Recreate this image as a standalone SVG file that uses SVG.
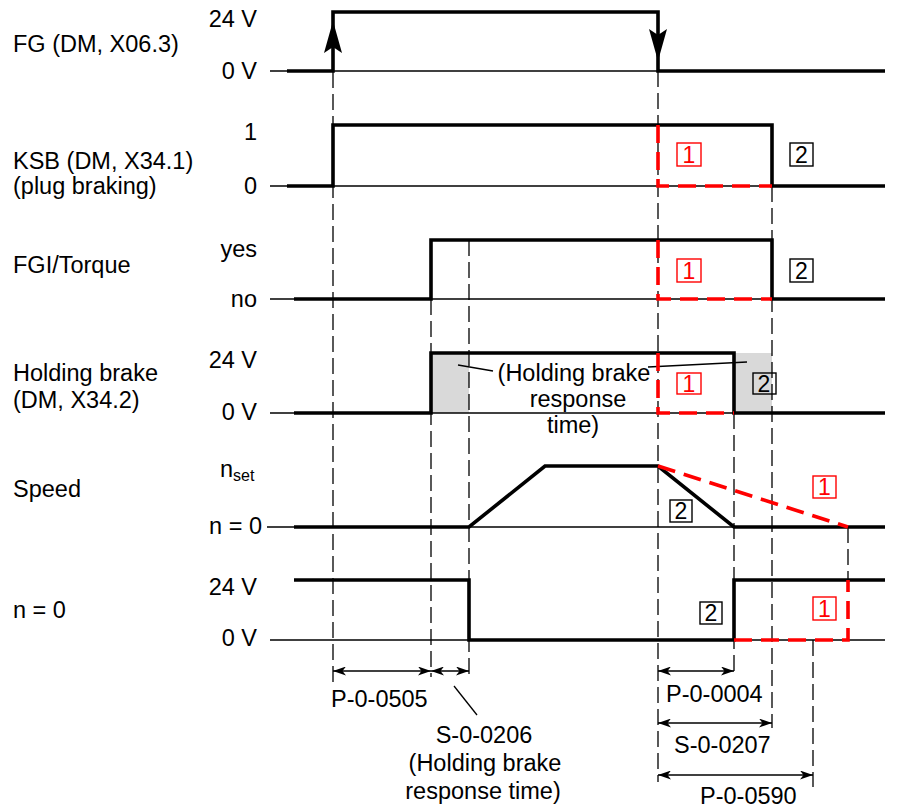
<svg xmlns="http://www.w3.org/2000/svg" width="899" height="808" viewBox="0 0 899 808">
<defs>
<style>
text{font-family:"Liberation Sans",Arial,sans-serif;font-size:23.5px;fill:#000}
.lvl{text-anchor:end}
.mid{text-anchor:middle}
.sig{fill:none;stroke:#000;stroke-width:3.6;stroke-linejoin:miter;stroke-linecap:butt}
.base{fill:none;stroke:#000;stroke-width:1.3}
.red{fill:none;stroke:#ff0000;stroke-width:3.6;stroke-dasharray:18 9}
.vd{fill:none;stroke:#000;stroke-width:1.3;stroke-dasharray:16 6}
.thin{fill:none;stroke:#000;stroke-width:1.3}
.dim{fill:none;stroke:#000;stroke-width:1.5;marker-start:url(#ah);marker-end:url(#ah)}
.grey{fill:#d9d9d9}
.bx{fill:none;stroke:#000;stroke-width:1.4}
.bxr{fill:none;stroke:#ff0000;stroke-width:1.4}
.bt{font-size:23px;text-anchor:middle}
.btr{font-size:23px;text-anchor:middle;fill:#ff0000}
</style>
<marker id="ah" viewBox="0 0 13 9" refX="13" refY="4.5" markerWidth="13" markerHeight="9" markerUnits="userSpaceOnUse" orient="auto-start-reverse">
<path d="M0,0 L13,4.5 L0,9 L3.5,4.5 Z" fill="#000"/>
</marker>
</defs>

<g id="grey-areas">
<rect class="grey" x="431" y="353" width="38" height="60"/>
<rect class="grey" x="734" y="353" width="38" height="60"/>
</g>

<g id="connectors">
<line class="vd" x1="333" y1="72" x2="333" y2="682"/>
<line class="vd" x1="431" y1="299" x2="431" y2="677"/>
<line class="vd" x1="469" y1="240" x2="469" y2="677"/>
<line class="vd" x1="658" y1="71" x2="658" y2="782"/>
<line class="vd" x1="734" y1="413" x2="734" y2="677"/>
<line class="vd" x1="772" y1="186" x2="772" y2="728"/>
<line class="vd" x1="848" y1="527" x2="848" y2="580"/>
<line class="vd" x1="813" y1="640" x2="813" y2="787"/>
<line class="thin" x1="458" y1="365" x2="493" y2="371"/>
<line class="thin" x1="648" y1="367" x2="747" y2="362"/>
<line class="thin" x1="454" y1="686" x2="477" y2="715"/>
<line class="dim" x1="333" y1="671" x2="431" y2="671"/>
<line class="dim" x1="431" y1="671" x2="469" y2="671"/>
<line class="dim" x1="658" y1="671" x2="734" y2="671"/>
<line class="dim" x1="658" y1="723" x2="772" y2="723"/>
<line class="dim" x1="658" y1="775" x2="813" y2="775"/>
</g>

<g id="signal-fg">
<text x="13" y="52">FG (DM, X06.3)</text>
<text class="lvl" x="257" y="27">24 V</text>
<text class="lvl" x="257" y="79">0 V</text>
<line class="base" x1="270" y1="71" x2="885" y2="71"/>
<polyline class="sig" points="287,71 333,71 333,12 658,12 658,71 885,71"/>
<path d="M333,21 L342,53 L333,47 L324,53 Z" fill="#000"/>
<path d="M658,61 L649,29 L658,35 L667,29 Z" fill="#000"/>
</g>

<g id="signal-ksb">
<text x="13" y="169">KSB (DM, X34.1)</text>
<text x="13" y="194">(plug braking)</text>
<text class="lvl" x="257" y="140">1</text>
<text class="lvl" x="257" y="194">0</text>
<line class="base" x1="270" y1="186" x2="885" y2="186"/>
<polyline class="sig" points="287,186 333,186 333,125 772,125 772,186 885,186"/>
<path class="red" d="M658,125 V186 H772"/>
<rect class="bxr" x="677" y="143" width="24" height="23"/>
<text class="btr" x="689" y="162.5">1</text>
<rect class="bx" x="790" y="143" width="23" height="23"/>
<text class="bt" x="801.5" y="162.5">2</text>
</g>

<g id="signal-fgi">
<text x="13" y="273">FGI/Torque</text>
<text class="lvl" x="257" y="257">yes</text>
<text class="lvl" x="257" y="307">no</text>
<line class="base" x1="270" y1="299" x2="885" y2="299"/>
<polyline class="sig" points="294,299 431,299 431,240 772,240 772,299 885,299"/>
<path class="red" d="M658,240 V299 H772"/>
<rect class="bxr" x="677" y="259" width="24" height="23"/>
<text class="btr" x="689" y="278.5">1</text>
<rect class="bx" x="790" y="259" width="23" height="23"/>
<text class="bt" x="801.5" y="278.5">2</text>
</g>

<g id="signal-holding-brake">
<text x="13" y="381">Holding brake</text>
<text x="13" y="408">(DM, X34.2)</text>
<text class="lvl" x="257" y="368">24 V</text>
<text class="lvl" x="257" y="420">0 V</text>
<line class="base" x1="270" y1="413" x2="885" y2="413"/>
<polyline class="sig" points="294,413 431,413 431,353 734,353 734,413 885,413"/>
<path class="red" d="M658,353 V413 H734"/>
<rect class="bxr" x="677" y="373" width="24" height="21"/>
<text class="btr" x="689" y="391.5">1</text>
<rect class="bx" x="753" y="373" width="23" height="21"/>
<text class="bt" x="764" y="391.5">2</text>
<text class="mid" x="574" y="381">(Holding brake</text>
<text class="mid" x="578" y="407">response</text>
<text class="mid" x="573" y="433">time)</text>
</g>

<g id="signal-speed">
<text x="13" y="497">Speed</text>
<text x="220" y="477">n<tspan font-size="16" dy="4">set</tspan></text>
<text class="lvl" x="262" y="534">n = 0</text>
<line class="base" x1="267" y1="527" x2="885" y2="527"/>
<polyline class="sig" points="294,527 469,527 545,466 658,466 734,527 885,527"/>
<path class="red" d="M658,466 L848,527"/>
<rect class="bxr" x="813" y="476" width="23" height="22"/>
<text class="btr" x="824.5" y="495">1</text>
<rect class="bx" x="670" y="500" width="22" height="22"/>
<text class="bt" x="681" y="519">2</text>
</g>

<g id="signal-n0">
<text x="13" y="618">n = 0</text>
<text class="lvl" x="257" y="595">24 V</text>
<text class="lvl" x="257" y="646">0 V</text>
<line class="base" x1="270" y1="640" x2="885" y2="640"/>
<polyline class="sig" points="294,580 469,580 469,640 734,640 734,580 885,580"/>
<path class="red" d="M734,640 H848 V580"/>
<rect class="bxr" x="813" y="597" width="23" height="23"/>
<text class="btr" x="824.5" y="616.5">1</text>
<rect class="bx" x="700" y="602" width="22" height="22"/>
<text class="bt" x="711" y="621">2</text>
</g>

<g id="dimension-labels">
<text x="331" y="707">P-0-0505</text>
<text class="mid" x="484" y="743">S-0-0206</text>
<text class="mid" x="485" y="771">(Holding brake</text>
<text class="mid" x="483" y="799">response time)</text>
<text x="666" y="702">P-0-0004</text>
<text x="674" y="753">S-0-0207</text>
<text x="700" y="804">P-0-0590</text>
</g>
</svg>
